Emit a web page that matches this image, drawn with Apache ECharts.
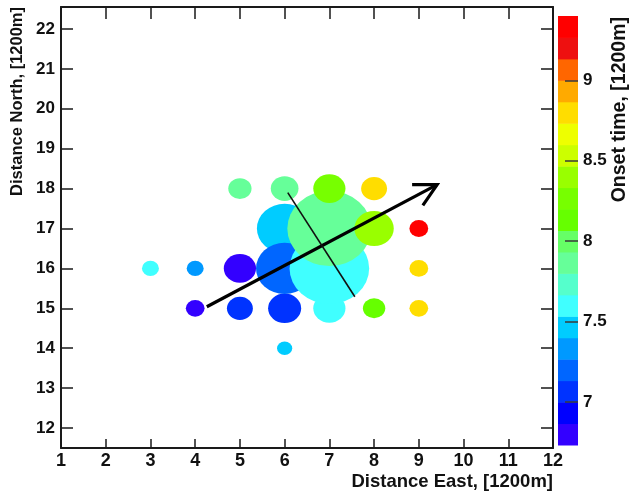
<!DOCTYPE html>
<html><head><meta charset="utf-8">
<script src="https://cdn.jsdelivr.net/npm/echarts@6/dist/echarts.min.js"></script>
<style>html,body{margin:0;padding:0;background:#fff}#c{width:635px;height:499px}</style>
</head><body><div id="c"></div>
<script>
// ---------- data ----------
const xTicks = [1,2,3,4,5,6,7,8,9,10,11,12];
const yTicks = [12,13,14,15,16,17,18,19,20,21,22];
const zTicks = [7,7.5,8,8.5,9];
const zMin = 6.7333, zMax = 9.4;
const bandColors = ['#3300ff','#0000ff','#0033ff','#0066ff','#0099ff','#00ccff','#40ffff','#55ffcc','#66ff99','#66ff66',
                    '#66ff00','#77ff00','#99ff00','#ccff00','#eeff00','#ffdd00','#ffaa00','#ff6600','#ee1010','#ff0000'];
// stations in drawing order
const ptX = [4, 5, 5, 6, 6, 6, 4, 6, 3, 7, 7, 5, 6, 7, 8, 7, 8, 9, 9, 8, 9];
const ptY = [15,16,15,15,17,16,16,14,16,15,16,18,18,17,15,18,17,15,16,18,17];
const ptR = [0.21,0.36,0.29,0.37,0.62,0.64,0.19,0.17,0.19,0.36,0.89,0.26,0.31,0.94,0.25,0.36,0.44,0.21,0.21,0.29,0.21];
const ptZ = [6.78,6.80,7.05,7.08,7.45,7.20,7.33,7.43,7.60,7.60,7.62,7.85,7.86,7.90,8.13,8.27,8.40,8.80,8.80,8.80,9.35];
const arrowShaft = [[4.26,15.04],[9.41,18.10]];
const arrowHead = [[8.85,18.10],[9.41,18.10],[9.09,17.58]];
const crossLine = [[6.07,17.90],[7.57,15.29]];
const xTitle = 'Distance East, [1200m]';
const yTitle = 'Distance North, [1200m]';
const zTitle = 'Onset time, [1200m]';

// ---------- layout ----------
const G = {left:61, top:7, width:492, height:441};
const CB = {left:558, top:16, width:20, height:429};
const xMin = 1, xMax = 12, yMin = 11.5, yMax = 22.55;
const pxX = G.width/(xMax-xMin), pxY = G.height/(yMax-yMin);
const nb = bandColors.length, step = (zMax-zMin)/nb;
function colorOf(z){ let i = Math.floor((z-zMin)/step); i = Math.max(0, Math.min(nb-1, i)); return bandColors[i]; }
const FONT = 'Liberation Sans';
const frameLine = {show:true, onZero:false, lineStyle:{color:'#1a1a1a', width:2}};
const tickStyle = {color:'#1a1a1a', width:1.5};
function lbl(size){ return {fontFamily:FONT, fontWeight:'bold', fontSize:size, color:'#111'}; }

const chart = echarts.init(document.getElementById('c'), null, {renderer:'canvas'});
const option = {
  animation:false,
  backgroundColor:'#fff',
  grid:[
    {left:G.left, top:G.top, width:G.width, height:G.height},
    {left:CB.left, top:CB.top, width:CB.width, height:CB.height}
  ],
  xAxis:[
    {type:'value', gridIndex:0, min:xMin, max:xMax, interval:1, axisLine:frameLine,
     axisTick:{show:true, inside:true, length:9, lineStyle:tickStyle},
     axisLabel:Object.assign({margin:4}, lbl(18)), splitLine:{show:false}},
    {type:'value', gridIndex:0, position:'top', min:xMin, max:xMax, interval:1, axisLine:frameLine,
     axisTick:{show:true, inside:true, length:12, lineStyle:tickStyle},
     axisLabel:{show:false}, splitLine:{show:false}},
    {type:'value', gridIndex:1, min:0, max:1, show:false}
  ],
  yAxis:[
    {type:'value', gridIndex:0, min:yMin, max:yMax, axisLine:frameLine,
     axisTick:{show:true, inside:true, length:12, lineStyle:tickStyle, customValues:yTicks},
     axisLabel:Object.assign({margin:6, customValues:yTicks}, lbl(17)), splitLine:{show:false}},
    {type:'value', gridIndex:0, position:'right', min:yMin, max:yMax, axisLine:frameLine,
     axisTick:{show:true, inside:true, length:12, lineStyle:tickStyle, customValues:yTicks},
     axisLabel:{show:false}, splitLine:{show:false}},
    {type:'value', gridIndex:1, position:'right', min:zMin, max:zMax, z:10,
     axisLine:{show:false, onZero:false},
     axisTick:{show:true, inside:true, length:13, lineStyle:{color:'#3a3a3a', width:1.5}, customValues:zTicks},
     axisLabel:Object.assign({margin:5, customValues:zTicks, formatter:v=>String(v)}, lbl(17)), splitLine:{show:false}}
  ],
  series:[
    {type:'scatter', xAxisIndex:0, yAxisIndex:0, symbol:'circle',
     data: ptX.map((x,i)=>[x, ptY[i], ptR[i], ptZ[i]]),
     symbolSize: v => [2*v[2]*pxX, 2*v[2]*pxY],
     itemStyle:{color: p => colorOf(p.value[3]), opacity:1},
     emphasis:{disabled:true}, z:2},
    {type:'custom', xAxisIndex:2, yAxisIndex:2, data: bandColors.map((c,i)=>[i]),
     renderItem:(params, api)=>{
       const i = params.dataIndex; const lo = zMin + i*step, hi = lo + step;
       const p1 = api.coord([0, hi]), p2 = api.coord([1, lo]);
       return {type:'rect', shape:{x:p1[0], y:p1[1], width:p2[0]-p1[0], height:p2[1]-p1[1]+0.5},
               style:{fill:bandColors[i]}};
     }, silent:true, z:1},
    {type:'line', xAxisIndex:0, yAxisIndex:0, data:arrowShaft, symbol:'none',
     lineStyle:{color:'#000', width:3.2}, z:5, silent:true},
    {type:'line', xAxisIndex:0, yAxisIndex:0, data:arrowHead, symbol:'none',
     lineStyle:{color:'#000', width:3.2, join:'miter'}, z:5, silent:true},
    {type:'line', xAxisIndex:0, yAxisIndex:0, data:crossLine, symbol:'none',
     lineStyle:{color:'#111', width:1.6}, z:5, silent:true}
  ],
  graphic:[
    {type:'text', x:G.left+G.width, y:482, style:{text:xTitle, align:'right', verticalAlign:'middle',
      font:'bold 18.5px "'+FONT+'"', fill:'#111'}},
    {type:'text', x:17, y:7, rotation:Math.PI/2, style:{text:yTitle, align:'right', verticalAlign:'middle',
      font:'bold 16.5px "'+FONT+'"', fill:'#111'}},
    {type:'text', x:620, y:17, rotation:Math.PI/2, style:{text:zTitle, align:'right', verticalAlign:'middle',
      font:'bold 19.5px "'+FONT+'"', fill:'#111'}}
  ]
};
chart.setOption(option);
</script></body></html>
